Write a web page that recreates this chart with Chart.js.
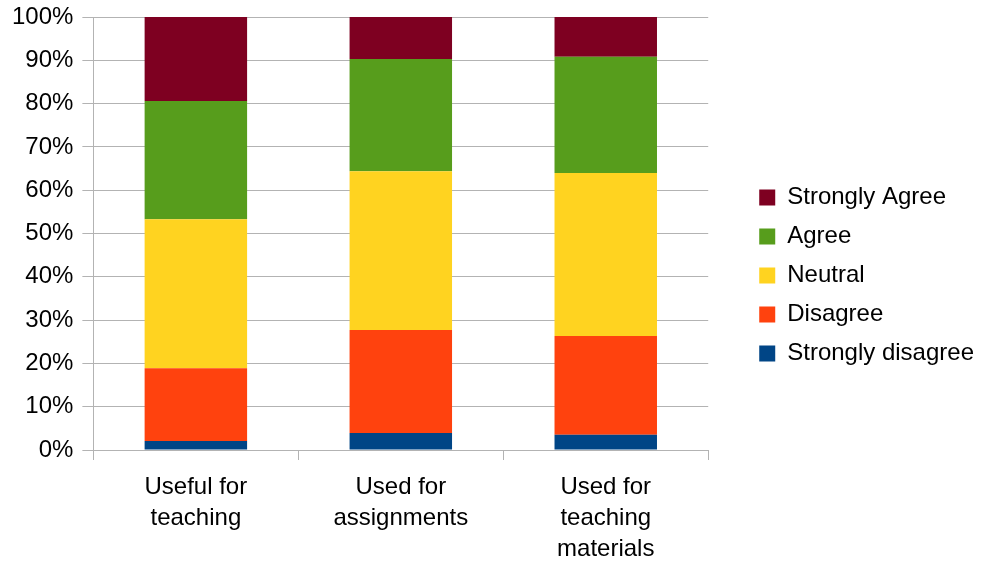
<!DOCTYPE html>
<html>
<head>
<meta charset="utf-8">
<script src="https://cdn.jsdelivr.net/npm/chart.js@4/dist/chart.umd.min.js"></script>
<style>
  html, body { margin: 0; padding: 0; background: #fff; }
  #wrap { width: 988px; height: 561px; }
</style>
</head>
<body>
<div id="wrap"><canvas id="likertChart"></canvas></div>
<script>
// Categories and percentage shares per answer
const categories = [['Useful for', 'teaching'], ['Used for', 'assignments'], ['Used for', 'teaching', 'materials']];
const stronglyDisagree = [2.1, 3.9, 3.5];
const disagree = [16.8, 23.8, 22.8];
const neutral = [34.4, 36.7, 37.7];
const agree = [27.3, 25.9, 26.8];
const stronglyAgree = [19.4, 9.7, 9.2];
const yTicks = [0, 10, 20, 30, 40, 50, 60, 70, 80, 90, 100];

const gridGray = '#b3b3b3';
const fontSpec = { family: '"Liberation Sans", Arial, sans-serif', size: 24 };

// push the legend away from the plot area and center its items around y=275
const legendGap = {
    id: 'legendGap',
    afterInit(chart) {
        const fit = chart.legend.fit;
        chart.legend.fit = function () {
            fit.call(this);
            this.width += 40;
        };
    },
    afterLayout(chart) {
        const lg = chart.legend;
        lg.left += 36;
        const shift = 275.5 - (lg.top + lg.bottom) / 2;
        lg.top += shift;
        lg.bottom += shift;
    }
};

const ctx = document.getElementById('likertChart').getContext('2d');
const likertChart = new Chart(ctx, {
    type: 'bar',
    data: {
        labels: categories,
        datasets: [
            { label: 'Strongly disagree', data: stronglyDisagree, backgroundColor: '#004586' },
            { label: 'Disagree', data: disagree, backgroundColor: '#ff420e' },
            { label: 'Neutral', data: neutral, backgroundColor: '#ffd320' },
            { label: 'Agree', data: agree, backgroundColor: '#579d1c' },
            { label: 'Strongly Agree', data: stronglyAgree, backgroundColor: '#7e0021' }
        ]
    },
    options: {
        responsive: true,
        maintainAspectRatio: false,
        animation: false,
        layout: { padding: { top: 17, left: 3, right: 0, bottom: 0 } },
        datasets: {
            bar: { borderWidth: 0, categoryPercentage: 1, barPercentage: 0.5 }
        },
        plugins: {
            tooltip: { enabled: false },
            legend: {
                position: 'right',
                reverse: true,
                labels: {
                    boxWidth: 16,
                    boxHeight: 16,
                    padding: 15,
                    color: '#000',
                    font: fontSpec
                }
            }
        },
        scales: {
            x: {
                stacked: true,
                afterFit: (axis) => { axis.height = 111; },
                grid: {
                    color: (c) => (c.index === 0 || c.index === categories.length) ? gridGray : 'rgba(0,0,0,0)',
                    tickColor: gridGray,
                    tickLength: 10,
                    offset: true
                },
                border: { color: gridGray },
                ticks: { color: '#000', font: { ...fontSpec, lineHeight: 1.29 }, padding: 12, maxRotation: 0 }
            },
            y: {
                stacked: true,
                min: 0,
                max: 100,
                afterBuildTicks: (axis) => { axis.ticks = yTicks.map(v => ({ value: v })); },
                grid: { color: gridGray, tickColor: gridGray, tickLength: 11 },
                border: { color: gridGray },
                ticks: {
                    color: '#000',
                    font: { ...fontSpec, lineHeight: 0.5 },
                    padding: 9,
                    callback: (v) => v + '%'
                }
            }
        }
    },
    plugins: [legendGap]
});
</script>
</body>
</html>
